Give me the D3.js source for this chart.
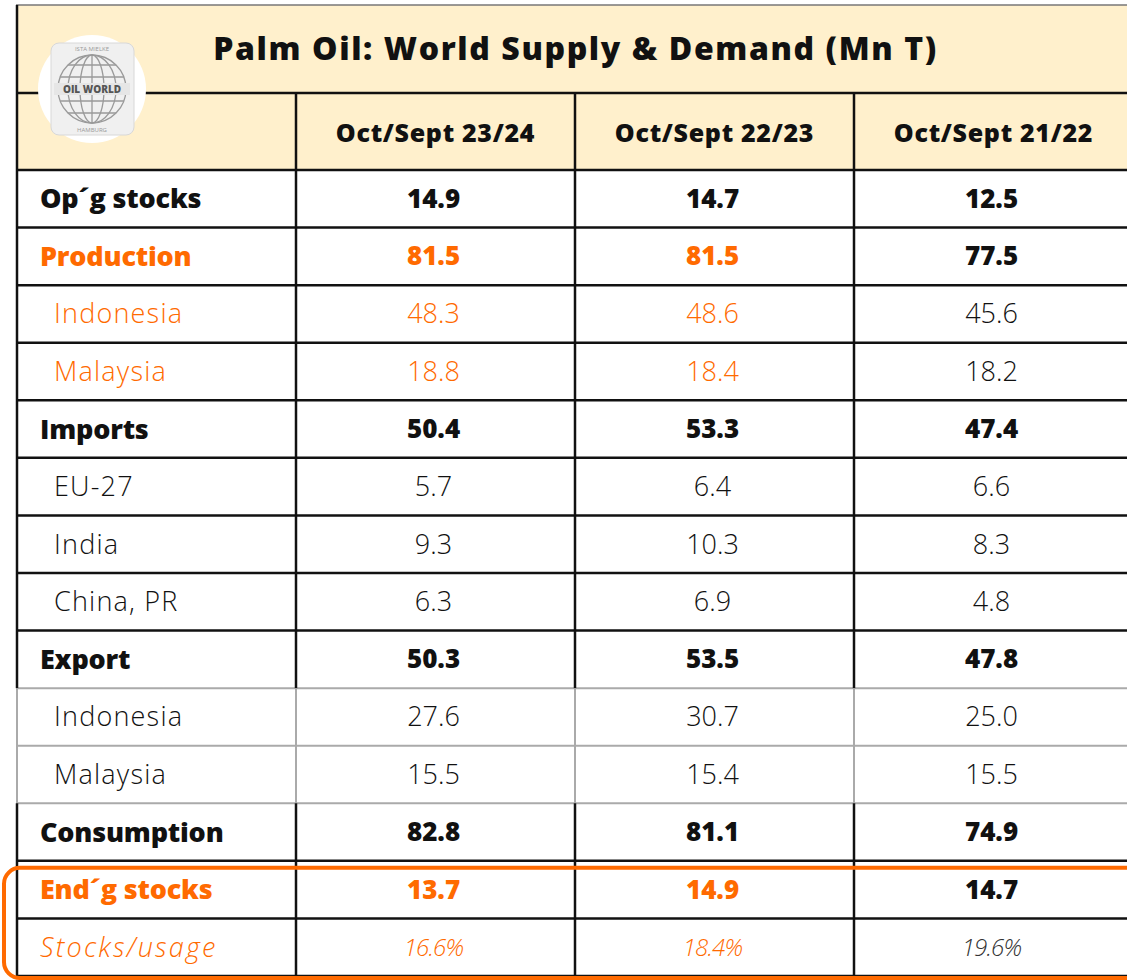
<!DOCTYPE html>
<html>
<head>
<meta charset="utf-8">
<script src="https://cdn.jsdelivr.net/npm/d3@7"></script>
<style>
  body { margin: 0; background: #fff; }
  svg { display: block; font-family: "Open Sans", sans-serif; }
</style>
</head>
<body>
<div id="chart"></div>
<script>
// table content
const title = "Palm Oil: World Supply & Demand (Mn T)";
const seasons = ["Oct/Sept 23/24", "Oct/Sept 22/23", "Oct/Sept 21/22"];
const rowLabels = ["Op´g stocks", "Production", "Indonesia", "Malaysia", "Imports", "EU-27", "India",
  "China, PR", "Export", "Indonesia", "Malaysia", "Consumption", "End´g stocks", "Stocks/usage"];
const rowKind = ["main", "main", "sub", "sub", "main", "sub", "sub", "sub", "main", "sub", "sub", "main", "main", "pct"];
const v2324 = [14.9, 81.5, 48.3, 18.8, 50.4, 5.7, 9.3, 6.3, 50.3, 27.6, 15.5, 82.8, 13.7, 16.6];
const v2223 = [14.7, 81.5, 48.6, 18.4, 53.3, 6.4, 10.3, 6.9, 53.5, 30.7, 15.4, 81.1, 14.9, 18.4];
const v2122 = [12.5, 77.5, 45.6, 18.2, 47.4, 6.6, 8.3, 4.8, 47.8, 25.0, 15.5, 74.9, 14.7, 19.6];
// rows whose label + first two seasons are highlighted
const highlightRows = [1, 2, 3, 12, 13];
const highlightCols = 2;
// rows drawn with light borders
const lightRows = [9, 10];

const W = 1127, H = 980;
const orange = "#ff6a00", ink = "#111", grey = "#aaa", cream = "#fff0cc";
const tL = 16, tR = 1133, tT = 5, titleH = 88, headH = 77, tB = 976;
const labelW = 280;

// text styles per row kind
const labStyle = {
  main: {size: 27, weight: 800, style: "normal", ls: -0.2},
  sub:  {size: 27, weight: 300, style: "normal", ls: 1.2},
  pct:  {size: 27, weight: 300, style: "italic", ls: 2.2}
};
const valStyle = {
  main: {size: 26, weight: 800, style: "normal", ls: 0},
  sub:  {size: 27, weight: 300, style: "normal", ls: 0},
  pct:  {size: 24, weight: 300, style: "italic", ls: -0.8}
};

const svg = d3.select("#chart").append("svg").attr("width", W).attr("height", H);

const x = d3.scaleBand().domain(seasons).range([tL + labelW, tR]);
const y = d3.scaleBand().domain(d3.range(rowLabels.length)).range([tT + titleH + headH, tB]);
const values = [v2324, v2223, v2122];

// background band for title + header
svg.append("rect").attr("x", tL).attr("y", tT).attr("width", tR - tL).attr("height", titleH + headH)
  .attr("fill", cream);

// title
svg.append("text").attr("x", (tL + 1135) / 2).attr("y", tT + titleH / 2 - 2)
  .attr("text-anchor", "middle").attr("dominant-baseline", "central")
  .attr("font-weight", 800).attr("font-size", 32).attr("letter-spacing", 1.6)
  .attr("fill", ink).text(title);

// header labels
svg.selectAll("text.head").data(seasons).join("text").attr("class", "head")
  .attr("x", d => x(d) + x.bandwidth() / 2).attr("y", tT + titleH + headH / 2)
  .attr("text-anchor", "middle").attr("dominant-baseline", "central")
  .attr("font-weight", 800).attr("font-size", 25).attr("letter-spacing", 0.7)
  .attr("fill", ink).text(d => d);

// grid lines
const g = svg.append("g");
const isLight = i => lightRows.includes(i);
const bounds = d3.range(rowLabels.length + 1);
g.selectAll("line.h").data(bounds).join("line")
  .attr("x1", tL).attr("x2", tR)
  .attr("y1", i => i < rowLabels.length ? y(i) : tB)
  .attr("y2", i => i < rowLabels.length ? y(i) : tB)
  .attr("stroke", i => (isLight(i) || isLight(i - 1)) ? grey : ink)
  .attr("stroke-width", i => (isLight(i) || isLight(i - 1)) ? 2 : 2.5);
// title/header divider and top edge
g.append("line").attr("x1", tL).attr("x2", tR).attr("y1", tT + titleH).attr("y2", tT + titleH)
  .attr("stroke", ink).attr("stroke-width", 2.5);
g.append("line").attr("x1", tL).attr("x2", tR).attr("y1", tT).attr("y2", tT)
  .attr("stroke", "#777").attr("stroke-width", 1.5);
// vertical lines, split per row so light rows get grey borders
const vx = [tL + 1].concat(seasons.map(s => x(s)));
vx.forEach((xx, ci) => {
  const segs = (ci === 0 ? [{y0: tT, y1: tT + titleH + headH}] : [{y0: tT + titleH, y1: tT + titleH + headH}])
    .concat(rowLabels.map((_, i) => ({y0: y(i), y1: y(i) + y.bandwidth(), light: isLight(i)})));
  g.append("g").selectAll("line").data(segs).join("line")
    .attr("x1", xx).attr("x2", xx).attr("y1", d => d.y0).attr("y2", d => d.y1)
    .attr("stroke", d => d.light ? grey : ink).attr("stroke-width", d => d.light ? 2 : 2.5);
});

// row labels
svg.selectAll("text.lab").data(rowLabels).join("text").attr("class", "lab")
  .attr("x", (d, i) => rowKind[i] === "sub" ? tL + 38 : tL + 24)
  .attr("y", (d, i) => y(i) + y.bandwidth() / 2 - 1)
  .attr("dominant-baseline", "central")
  .attr("font-size", (d, i) => labStyle[rowKind[i]].size)
  .attr("font-weight", (d, i) => labStyle[rowKind[i]].weight)
  .attr("font-style", (d, i) => labStyle[rowKind[i]].style)
  .attr("letter-spacing", (d, i) => labStyle[rowKind[i]].ls)
  .attr("fill", (d, i) => highlightRows.includes(i) ? orange : ink)
  .text(d => d);

// values
const cells = [];
values.forEach((vals, c) => vals.forEach((v, i) => cells.push({c, i, v})));
const fmt = d3.format(".1f");
svg.selectAll("text.val").data(cells).join("text").attr("class", "val")
  .attr("x", d => x(seasons[d.c]) + x.bandwidth() / 2 - 2)
  .attr("y", d => y(d.i) + y.bandwidth() / 2 - 1)
  .attr("text-anchor", "middle").attr("dominant-baseline", "central")
  .attr("font-size", d => valStyle[rowKind[d.i]].size)
  .attr("font-weight", d => valStyle[rowKind[d.i]].weight)
  .attr("font-style", d => valStyle[rowKind[d.i]].style)
  .attr("letter-spacing", d => valStyle[rowKind[d.i]].ls)
  .attr("fill", d => highlightRows.includes(d.i) && d.c < highlightCols ? orange : (rowKind[d.i] === "pct" ? "#333" : ink))
  .text(d => rowKind[d.i] === "pct" ? fmt(d.v) + "%" : fmt(d.v));

// highlight frame around the last two rows
const hlTop = y(rowLabels.length - 2);
svg.append("rect").attr("x", 4).attr("y", hlTop + 7).attr("width", 1160).attr("height", tB + 2 - hlTop - 7)
  .attr("rx", 16).attr("fill", "none").attr("stroke", orange).attr("stroke-width", 4);

// logo badge
const logo = svg.append("g").attr("transform", "translate(92,89)");
logo.append("circle").attr("r", 54).attr("fill", "#fff");
logo.append("rect").attr("x", -41).attr("y", -46).attr("width", 83).attr("height", 92).attr("rx", 8)
  .attr("fill", "#f0f0f0").attr("stroke", "#d8d8d8");
const globe = logo.append("g").attr("fill", "none").attr("stroke", "#9a9a9a").attr("stroke-width", 1.3);
globe.append("circle").attr("r", 34);
[-24, -12, 12, 24].forEach(k => globe.append("line").attr("x1", -Math.sqrt(34 * 34 - k * k)).attr("x2", Math.sqrt(34 * 34 - k * k)).attr("y1", k).attr("y2", k));
[12, 24].forEach(k => globe.append("ellipse").attr("rx", k).attr("ry", 34));
globe.append("line").attr("x1", 0).attr("x2", 0).attr("y1", -34).attr("y2", 34);
logo.append("rect").attr("x", -38).attr("y", -6).attr("width", 76).attr("height", 12).attr("fill", "#e6e6e6");
logo.append("text").attr("x", 0).attr("y", 0).attr("text-anchor", "middle").attr("dominant-baseline", "central")
  .attr("font-size", 10).attr("font-weight", 800).attr("fill", "#555").text("OIL WORLD");
logo.append("text").attr("x", 0).attr("y", -38).attr("text-anchor", "middle").attr("font-size", 6).attr("fill", "#999").text("ISTA MIELKE");
logo.append("text").attr("x", 0).attr("y", 43).attr("text-anchor", "middle").attr("font-size", 6).attr("fill", "#999").text("HAMBURG");
</script>
</body>
</html>
